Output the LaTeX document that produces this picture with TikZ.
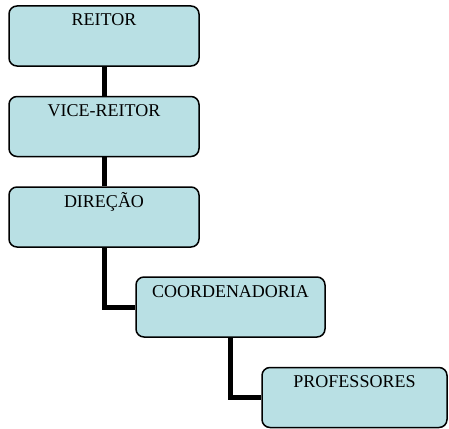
\documentclass[tikz,border=0pt]{standalone}
\usepackage{fontspec}
\setmainfont{Liberation Serif}
\definecolor{boxfill}{RGB}{185,224,228}
\begin{document}
\begin{tikzpicture}[x=1pt,y=-1pt,
  orgbox/.style={draw=black, line width=1.5pt, fill=boxfill, rounded corners=8pt,
    rectangle, minimum width=#1, inner xsep=0pt, inner ysep=0pt,
    text height=20pt, text depth=40pt,
    font=\fontsize{18}{20}\selectfont},
  orgbox/.default=190pt,
  link/.style={draw=black, line width=5pt}]
\useasboundingbox (0,0) rectangle (449,428);
\node[orgbox] (reitor) at (104,36) {REITOR};
\node[orgbox] (vice) at (104,126.5) {VICE-REITOR};
\node[orgbox] (direcao) at (104,217) {DIREÇÃO};
\node[orgbox=189pt] (coord) at (230.5,307) {COORDENADORIA};
\node[orgbox=185pt] (prof) at (354.5,397.5) {PROFESSORES};
\draw[link] (reitor.south) -- (vice.north);
\draw[link] (vice.south) -- (direcao.north);
\draw[link] (direcao.south) |- (coord.west);
\draw[link] (coord.south) |- (prof.west);
\end{tikzpicture}
\end{document}
